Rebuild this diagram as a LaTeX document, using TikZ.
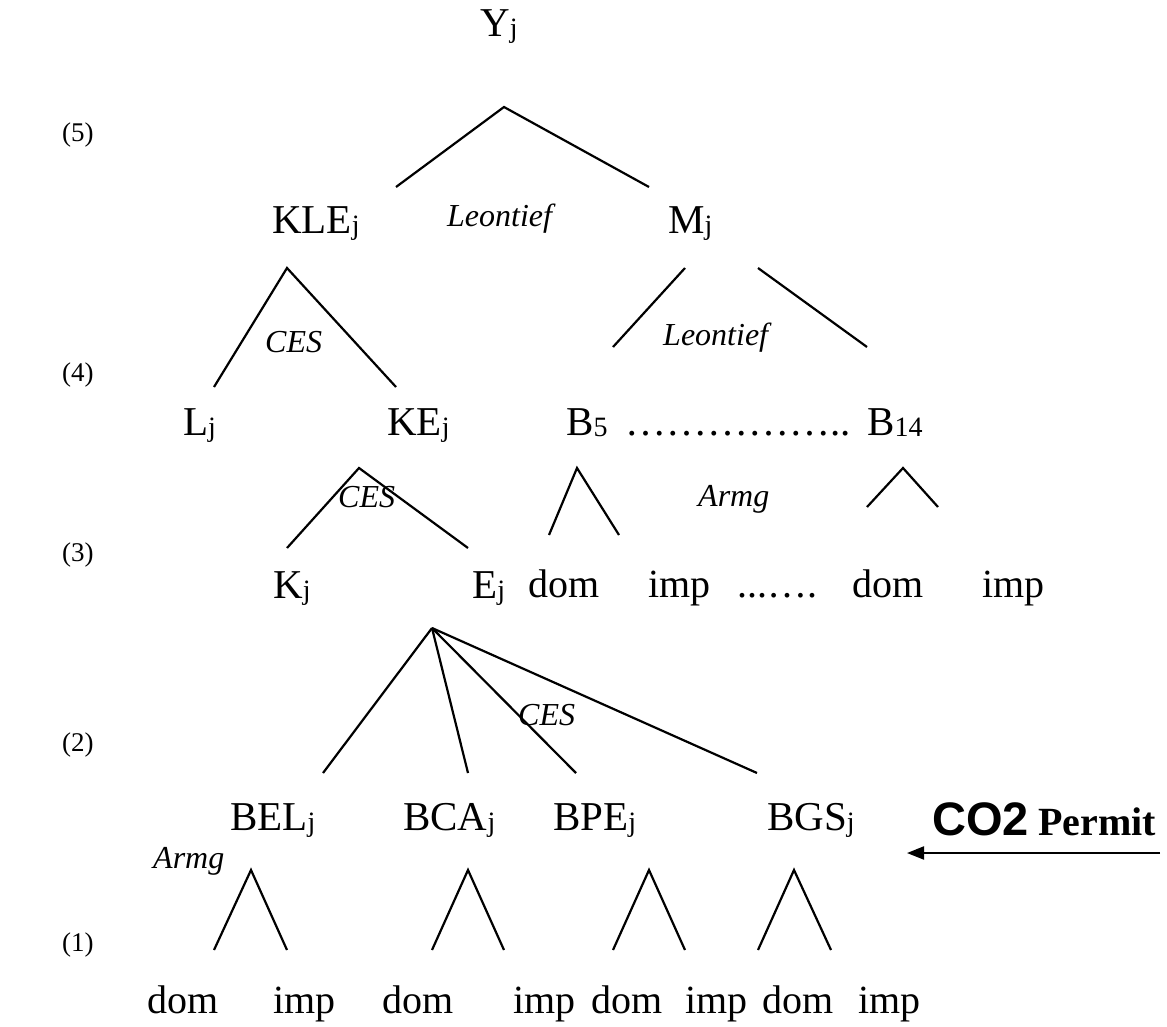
\documentclass[tikz,border=0pt]{standalone}
\usepackage{fontspec}
\setmainfont{Liberation Serif}
\newfontfamily\arialfont{Liberation Sans}
\usetikzlibrary{arrows.meta}
\newcommand{\sj}{{\fontsize{28}{28}\selectfont\raisebox{-1pt}{j}}}
\newcommand{\sn}[1]{{\fontsize{28}{28}\selectfont\raisebox{-1pt}{#1}}}
\begin{document}
\begin{tikzpicture}[x=1pt,y=-1pt,
  lbl/.style={anchor=base west,inner sep=0pt,font=\fontsize{41}{49}\selectfont},
  sml/.style={anchor=base west,inner sep=0pt,font=\fontsize{40}{48}\selectfont},
  itl/.style={anchor=base west,inner sep=0pt,font=\fontsize{32}{38}\selectfont\itshape},
  lvl/.style={anchor=west,inner sep=0pt,font=\fontsize{27}{32}\selectfont},
  edge/.style={line width=2.2pt,line cap=butt}]
\useasboundingbox (0,0) rectangle (1167,1026);

% level numbers
\node[lvl] (l5) at (62,135) {(5)};
\node[lvl] (l4) at (62,375) {(4)};
\node[lvl] (l3) at (62,555) {(3)};
\node[lvl] (l2) at (62,745) {(2)};
\node[lvl] (l1) at (62,945) {(1)};

% labels
\node[lbl] (Y) at (480,36) {Y\sj};
\node[lbl] (KLE) at (272,233) {KLE\sj};
\node[itl] (leo1) at (447,226) {Leontief};
\node[lbl] (M) at (668,233) {M\sj};
\node[itl] (ces1) at (265,352) {CES};
\node[itl] (leo2) at (663,345) {Leontief};
\node[lbl] (L) at (183,435) {L\sj};
\node[lbl] (KE) at (387,435) {KE\sj};
\node[lbl] (B5) at (566,435) {B\sn{5}};
\node[lbl] (dots1) at (625,435) {……………..};
\node[lbl] (B14) at (867,435) {B\sn{14}};
\node[itl] (ces2) at (338,507) {CES};
\node[itl] (armg1) at (698,506) {Armg};
\node[lbl] (K) at (273,598) {K\sj};
\node[lbl] (E) at (472,598) {E\sj};
\node[sml] (d1) at (528,597) {dom};
\node[sml] (i1) at (648,597) {imp};
\node[sml] (dots2) at (737,597) {...….};
\node[sml] (d2) at (852,597) {dom};
\node[sml] (i2) at (982,597) {imp};
\node[itl] (ces3) at (518,725) {CES};
\node[lbl] (BEL) at (230,830) {BEL\sj};
\node[lbl] (BCA) at (403,830) {BCA\sj};
\node[lbl] (BPE) at (553,830) {BPE\sj};
\node[lbl] (BGS) at (767,830) {BGS\sj};
\node[itl] (armg2) at (153,868) {Armg};
\node[anchor=base west,inner sep=0pt,font=\arialfont\bfseries\fontsize{47}{52}\selectfont] (co2) at (932,835) {CO2};
\node[anchor=base west,inner sep=0pt,font=\bfseries\fontsize{40}{48}\selectfont] (permit) at (1038,835) {Permit};
\node[sml] (bd1) at (147,1013) {dom};
\node[sml] (bi1) at (273,1013) {imp};
\node[sml] (bd2) at (382,1013) {dom};
\node[sml] (bi2) at (513,1013) {imp};
\node[sml] (bd3) at (591,1013) {dom};
\node[sml] (bi3) at (685,1013) {imp};
\node[sml] (bd4) at (762,1013) {dom};
\node[sml] (bi4) at (858,1013) {imp};

% tree coordinates
\coordinate (aY) at (504,107);
\coordinate (aYl) at (396,187);
\coordinate (aYr) at (649,187);
\coordinate (aKLE) at (287,268);
\coordinate (aKLEl) at (214,387);
\coordinate (aKLEr) at (396,387);
\coordinate (aMl1) at (685,268);
\coordinate (aMl2) at (613,347);
\coordinate (aMr1) at (758,268);
\coordinate (aMr2) at (867,347);
\coordinate (aKE) at (359,468);
\coordinate (aKEl) at (287,548);
\coordinate (aKEr) at (468,548);
\coordinate (aB5) at (577,468);
\coordinate (aB5l) at (549,535);
\coordinate (aB5r) at (619,535);
\coordinate (aB14) at (903,468);
\coordinate (aB14l) at (867,507);
\coordinate (aB14r) at (938,507);
\coordinate (aE) at (432,628);
\coordinate (aE1) at (323,773);
\coordinate (aE2) at (468,773);
\coordinate (aE3) at (576,773);
\coordinate (aE4) at (757,773);
\coordinate (aBEL) at (251,870);
\coordinate (aBELl) at (214,950);
\coordinate (aBELr) at (287,950);
\coordinate (aBCA) at (468,870);
\coordinate (aBCAl) at (432,950);
\coordinate (aBCAr) at (504,950);
\coordinate (aBPE) at (649,870);
\coordinate (aBPEl) at (613,950);
\coordinate (aBPEr) at (685,950);
\coordinate (aBGS) at (794,870);
\coordinate (aBGSl) at (758,950);
\coordinate (aBGSr) at (831,950);
\coordinate (arS) at (1160,853);
\coordinate (arE) at (907,853);

\draw[edge] (aYl) -- (aY) -- (aYr);
\draw[edge] (aKLEl) -- (aKLE) -- (aKLEr);
\draw[edge] (aMl1) -- (aMl2);
\draw[edge] (aMr1) -- (aMr2);
\draw[edge] (aKEl) -- (aKE) -- (aKEr);
\draw[edge] (aB5l) -- (aB5) -- (aB5r);
\draw[edge] (aB14l) -- (aB14) -- (aB14r);
\draw[edge] (aE) -- (aE1);
\draw[edge] (aE) -- (aE2);
\draw[edge] (aE) -- (aE3);
\draw[edge] (aE) -- (aE4);
\draw[edge] (aBELl) -- (aBEL) -- (aBELr);
\draw[edge] (aBCAl) -- (aBCA) -- (aBCAr);
\draw[edge] (aBPEl) -- (aBPE) -- (aBPEr);
\draw[edge] (aBGSl) -- (aBGS) -- (aBGSr);
\draw[line width=2pt,-{Triangle[length=17pt,width=13pt]}] (arS) -- (arE);
\end{tikzpicture}
\end{document}
